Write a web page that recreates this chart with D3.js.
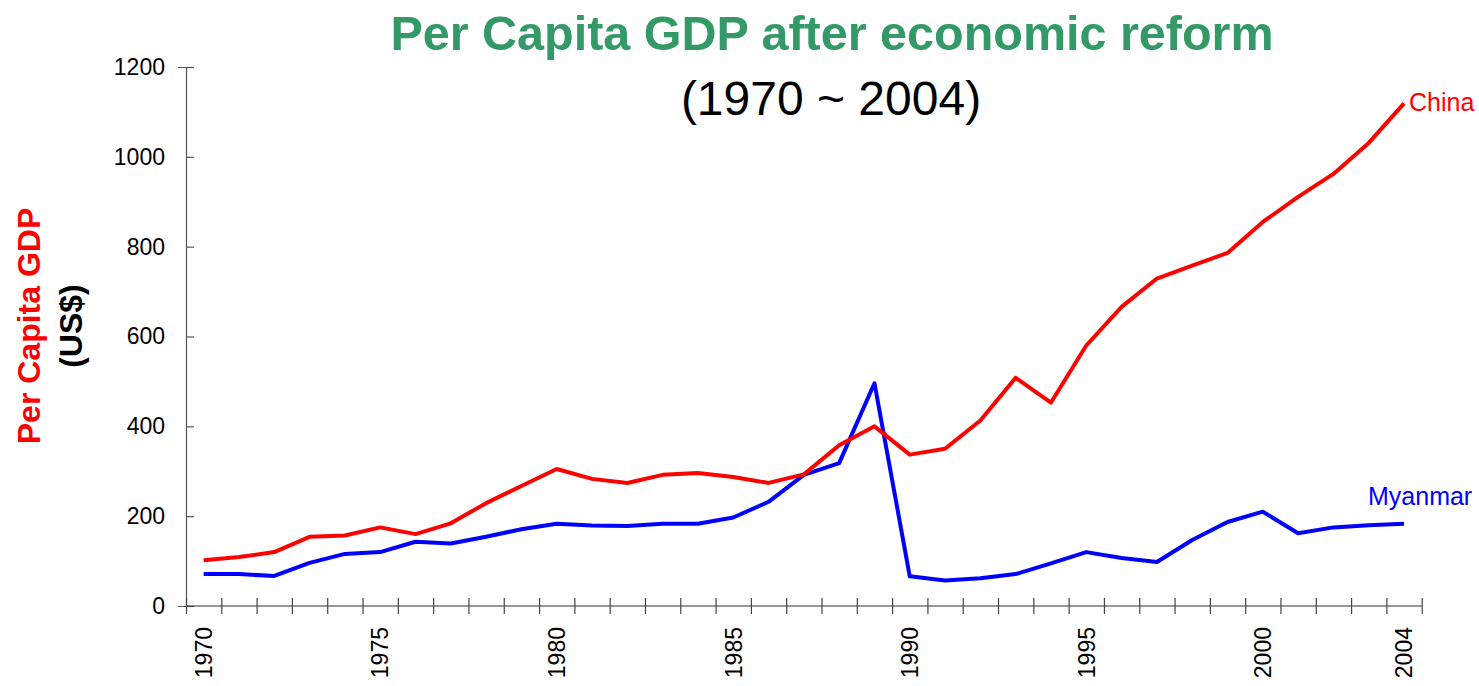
<!DOCTYPE html>
<html>
<head>
<meta charset="utf-8">
<script src="https://cdn.jsdelivr.net/npm/d3@7"></script>
<style>
  body { margin: 0; background: #fff; }
  text { font-family: "Liberation Sans", Arial, sans-serif; }
</style>
</head>
<body>
<div id="chart"></div>
<script>
// data
var years = d3.range(1970, 2005);
var china = [102, 109, 120, 154, 157, 175, 160, 184, 229, 267, 305, 283, 274, 292, 296, 287, 274, 293, 358, 400,
             337, 350, 413, 508, 453, 580, 666, 729, 758, 786, 855, 911, 962, 1031, 1119];
var myanmar = [71, 71, 67, 96, 116, 120, 143, 139, 154, 171, 183, 179, 178, 183, 183, 197, 232, 292, 318, 496,
               66, 57, 62, 71, 95, 120, 107, 98, 147, 187, 210, 162, 175, 180, 183];
var yTicks = [0, 200, 400, 600, 800, 1000, 1200];
var labelYears = [1970, 1975, 1980, 1985, 1990, 1995, 2000, 2004];

var width = 1479,
    height = 686,
    plotLeft = 186, plotRight = 1421.7,
    plotTop = 67, plotBottom = 606;

var svg = d3.select("#chart").append("svg")
    .attr("width", width)
    .attr("height", height);

var x = d3.scaleBand()
    .domain(years)
    .range([plotLeft, plotRight])
    .padding(0);

var xEdge = d3.scaleLinear()
    .domain([0, years.length])
    .range([plotLeft, plotRight]);

var y = d3.scaleLinear()
    .domain([0, 1200])
    .range([plotBottom, plotTop]);

// y axis
var yAxis = svg.append("g")
    .attr("transform", "translate(" + plotLeft + ",0)")
    .call(d3.axisLeft(y).tickValues(yTicks).tickFormat(d3.format("d")).tickSize(8).tickPadding(13));
yAxis.select(".domain").attr("stroke", "#555").attr("stroke-width", 1.2);
yAxis.selectAll(".tick line").attr("x2", 8).attr("stroke", "#555").attr("stroke-width", 1.2);
yAxis.selectAll(".tick text")
    .style("font-size", "23px")
    .attr("fill", "#000");

// x axis, ticks sit on the band edges
var xAxis = svg.append("g")
    .attr("transform", "translate(0," + plotBottom + ")")
    .call(d3.axisBottom(xEdge).tickValues(d3.range(years.length + 1)).tickSize(8).tickFormat(""));
xAxis.select(".domain").attr("stroke", "#333").attr("stroke-width", 1.2).attr("d", "M" + plotLeft + ",0H" + plotRight);
xAxis.selectAll(".tick line").attr("y1", -8).attr("stroke", "#444").attr("stroke-width", 1.2);

svg.append("g").selectAll("text")
    .data(labelYears)
    .enter().append("text")
    .attr("transform", function(d) {
        return "translate(" + (x(d) + x.bandwidth() / 2) + ",627) rotate(-90)";
    })
    .attr("dy", "0.36em")
    .attr("text-anchor", "end")
    .style("font-size", "23px")
    .text(function(d) { return d; });

// lines
var line = d3.line()
    .x(function(d, i) { return x(years[i]) + x.bandwidth() / 2; })
    .y(function(d) { return y(d); });

svg.append("path")
    .datum(myanmar)
    .attr("d", line)
    .attr("fill", "none")
    .attr("stroke", "#0000ff")
    .attr("stroke-width", 4)
    .attr("stroke-linejoin", "round");

svg.append("path")
    .datum(china)
    .attr("d", line)
    .attr("fill", "none")
    .attr("stroke", "#ff0000")
    .attr("stroke-width", 4)
    .attr("stroke-linejoin", "round");

// series labels
svg.append("text")
    .attr("x", 1409)
    .attr("y", 111)
    .attr("fill", "#ff0000")
    .style("font-size", "25px")
    .text("China");

svg.append("text")
    .attr("x", 1368)
    .attr("y", 505)
    .attr("fill", "#0000ff")
    .style("font-size", "25px")
    .text("Myanmar");

// titles
svg.append("text")
    .attr("x", 832)
    .attr("y", 50)
    .attr("text-anchor", "middle")
    .attr("fill", "#339966")
    .style("font-size", "48.5px")
    .style("font-weight", "bold")
    .text("Per Capita GDP after economic reform");

svg.append("text")
    .attr("x", 831)
    .attr("y", 115)
    .attr("text-anchor", "middle")
    .attr("fill", "#000")
    .style("font-size", "48px")
    .text("(1970 ~ 2004)");

svg.append("text")
    .attr("transform", "translate(40,326) rotate(-90)")
    .attr("text-anchor", "middle")
    .attr("fill", "#ff0000")
    .style("font-size", "32px")
    .style("font-weight", "bold")
    .text("Per Capita GDP");

svg.append("text")
    .attr("transform", "translate(82,326) rotate(-90)")
    .attr("text-anchor", "middle")
    .attr("fill", "#000")
    .style("font-size", "32px")
    .style("font-weight", "bold")
    .text("(US$)");
</script>
</body>
</html>
